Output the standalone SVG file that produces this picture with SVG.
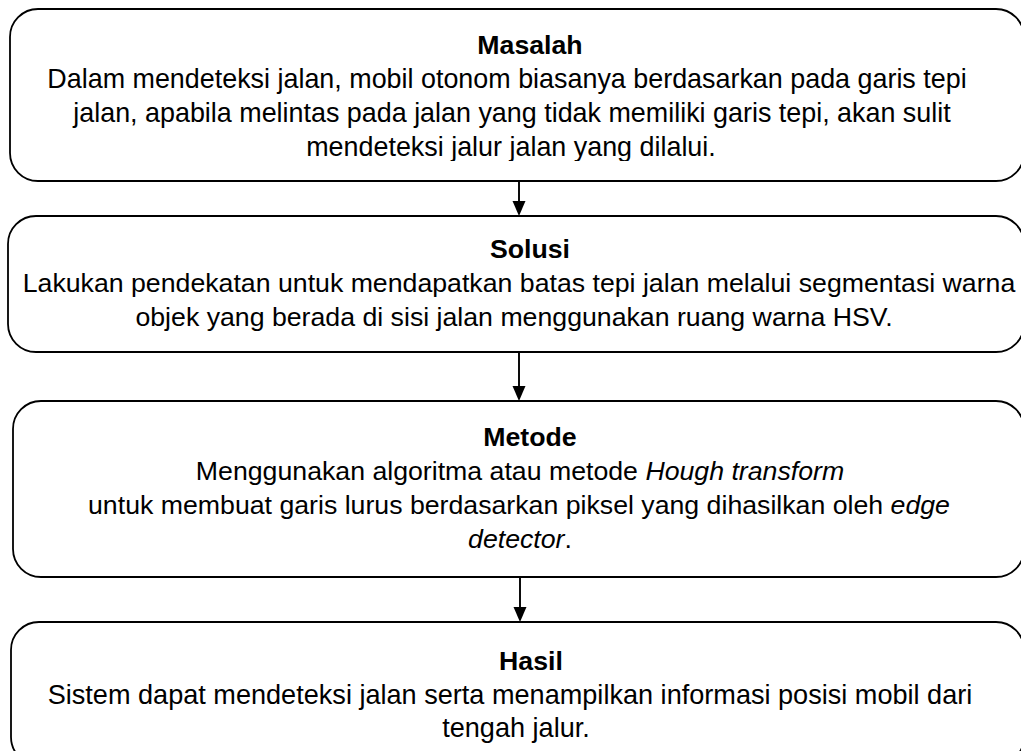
<svg xmlns="http://www.w3.org/2000/svg" width="1021" height="751" viewBox="0 0 1021 751">
<style>
.box{fill:#fff;stroke:#000;stroke-width:1.8}
text{font-family:"Liberation Sans",Arial,sans-serif;font-size:26.7px;fill:#000;text-anchor:middle}
.t{font-weight:bold}
.i{font-style:italic}
.c{stroke:#000;stroke-width:1.9;fill:none}
.w1{font-size:26.9px}
.w2{font-size:27.1px}
</style>
<defs>
<clipPath id="clip1"><rect x="0" y="0" width="1021" height="161"/></clipPath>
</defs>
<rect width="1021" height="751" fill="#fff"/>
<g id="connectors">
<line class="c" x1="519" y1="181" x2="519" y2="202"/>
<path d="M512.5,201 L525.5,201 L519,216 Z"/>
<line class="c" x1="519" y1="352" x2="519" y2="387"/>
<path d="M512.5,386 L525.5,386 L519,401 Z"/>
<line class="c" x1="520" y1="577" x2="520" y2="608"/>
<path d="M513.5,607 L526.5,607 L520,622 Z"/>
</g>
<g id="masalah">
<rect class="box" x="10" y="9" width="1014" height="172" rx="28" ry="28"/>
<text class="t" x="530" y="54">Masalah</text>
<text class="w1" x="507" y="88">Dalam mendeteksi jalan, mobil otonom biasanya berdasarkan pada garis tepi</text>
<text class="w1" x="512" y="122">jalan, apabila melintas pada jalan yang tidak memiliki garis tepi, akan sulit</text>
<text class="w1" x="511" y="156" clip-path="url(#clip1)">mendeteksi jalur jalan yang dilalui.</text>
</g>
<g id="solusi">
<rect class="box" x="8" y="216" width="1016" height="136" rx="28" ry="28"/>
<text class="t" x="530" y="258">Solusi</text>
<text x="519" y="292">Lakukan pendekatan untuk mendapatkan batas tepi jalan melalui segmentasi warna</text>
<text x="514" y="326">objek yang berada di sisi jalan menggunakan ruang warna HSV.</text>
</g>
<g id="metode">
<rect class="box" x="13" y="401" width="1011" height="176" rx="28" ry="28"/>
<text class="t" x="530" y="446">Metode</text>
<text x="520" y="480">Menggunakan algoritma atau metode <tspan class="i">Hough transform</tspan></text>
<text x="519" y="514">untuk membuat garis lurus berdasarkan piksel yang dihasilkan oleh <tspan class="i">edge</tspan></text>
<text x="520" y="548"><tspan class="i">detector</tspan>.</text>
</g>
<g id="hasil">
<rect class="box" x="11" y="622" width="1013" height="143" rx="28" ry="28"/>
<text class="t" x="531" y="670">Hasil</text>
<text class="w2" x="510" y="704">Sistem dapat mendeteksi jalan serta menampilkan informasi posisi mobil dari</text>
<text class="w2" x="516" y="737">tengah jalur.</text>
</g>
</svg>
